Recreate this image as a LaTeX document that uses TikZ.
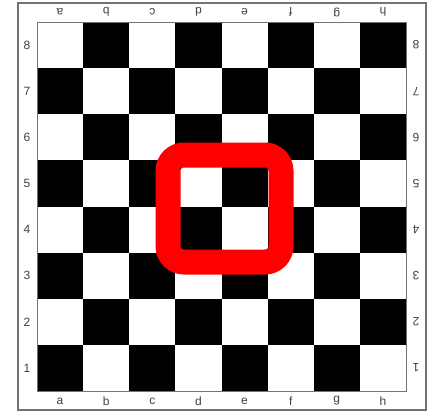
\documentclass[tikz,border=0pt]{standalone}
\usepackage{fontspec}
\setmainfont{Liberation Sans}
\begin{document}
\begin{tikzpicture}[x=1pt,y=-1pt,
  lbl/.style={text=black!75, font=\fontsize{12}{13}\selectfont, inner sep=0pt},
  frame/.style={draw=black!55, line width=1.6pt},
  marker/.style={draw=red, line width=25pt, rounded corners=16pt}]
\useasboundingbox (0,0) rectangle (430,413);
\fill[white] (0,0) rectangle (430,413);
\draw[frame] (18,3) rectangle (426,410);
\def\sq{46.125}
\foreach \c in {0,...,7}{
  \foreach \r in {0,...,7}{
    \pgfmathtruncatemacro{\p}{mod(\c+\r,2)}
    \ifnum\p=1
      \fill[black] ({37+\c*\sq},{22+\r*\sq}) rectangle ++(\sq,\sq);
    \fi
  }
}
\draw[black!55, line width=0.8pt] (37,22) rectangle (406,391);
\foreach \l [count=\i from 0] in {a,b,c,d,e,f,g,h}{
  \node[lbl] (bot\l) at ({37+(\i+0.5)*\sq},401) {\l};
  \node[lbl, rotate=180] (top\l) at ({37+(\i+0.5)*\sq},12) {\l};
}
\foreach \n [count=\i from 0] in {8,7,6,5,4,3,2,1}{
  \node[lbl] (left\n) at (27,{22+(\i+0.5)*\sq}) {\n};
  \node[lbl, rotate=180] (right\n) at (416,{22+(\i+0.5)*\sq}) {\n};
}
\draw[marker] (168,155) rectangle (281,262);
\end{tikzpicture}
\end{document}
